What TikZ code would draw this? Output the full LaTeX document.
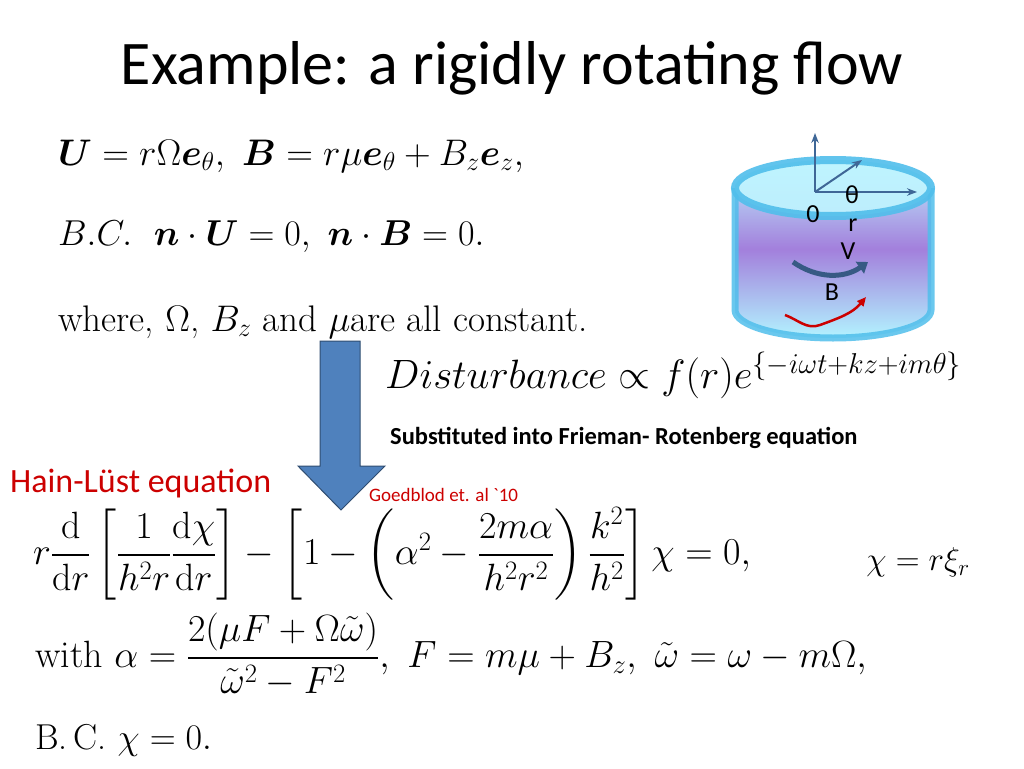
\documentclass[tikz,border=0pt]{standalone}
\usepackage{fix-cm}
\usepackage{amsmath,amssymb,bm}
\usepackage{fontspec}
\newfontfamily\carl{Carlito}
\usetikzlibrary{arrows.meta}
\definecolor{accb}{RGB}{79,129,189}
\definecolor{cyl}{RGB}{80,190,235}
\begin{document}
\begin{tikzpicture}[x=1pt,y=-1pt,
  eq/.style={anchor=west,inner sep=0pt,font=\fontsize{36}{40}\selectfont},
  ax/.style={draw=accb!80!black,line width=2pt,-{Stealth[length=10pt]}},
  lab/.style={inner sep=0pt,font=\carl\fontsize{26}{28}\selectfont}]
\useasboundingbox (0,0) rectangle (1024,768);
\node[inner sep=0pt,font=\carl\fontsize{62}{66}\selectfont] (title) at (512,68) {Example: a rigidly rotating flow};
\node[eq,font=\fontsize{37}{40}\selectfont] (e1) at (58,156) {$\bm U=r\Omega \bm e_\theta,\ \bm B=r\mu \bm e_\theta+B_z\bm e_z,$};
\node[eq] (e2) at (58,237) {$B.C.\ \ \bm n\cdot\bm U=0,\ \bm n\cdot \bm B=0.$};
\node[eq,font=\fontsize{37}{40}\selectfont] (e3) at (58,322) {where, $\Omega$, $B_z$ and $\mu$are all constant.};
% block arrow
\draw[draw=accb!60!black, line width=1pt, fill=accb]
  (320,341) -- (360,341) -- (360,466) -- (385,466) -- (341,510) -- (298,466) -- (320,466) -- cycle;
\node[inner sep=0pt,anchor=west,font=\fontsize{41}{44}\selectfont] (dist) at (385,375) {$Disturbance \propto f(r)e^{\{-i\omega t+kz+im\theta\}}$};
\node[inner sep=0pt,anchor=west,font=\carl\bfseries\fontsize{24.5}{26}\selectfont] (sub) at (390,438) {Substituted into Frieman- Rotenberg equation};
\node[inner sep=0pt,anchor=west,text=red!80!black,font=\carl\fontsize{34}{36}\selectfont] (hl) at (10,483) {Hain-Lüst equation};
\node[inner sep=0pt,anchor=west,text=red!80!black,font=\carl\fontsize{19}{20}\selectfont] (gb) at (369,495) {Goedblod et. al `10};
\node[eq,font=\fontsize{38}{42}\selectfont] (hle) at (33,554) {$r\dfrac{\mathrm d}{\mathrm dr}\left[\dfrac{1}{h^2r}\dfrac{\mathrm d\chi}{\mathrm dr}\right]-\left[1-\left(\alpha^2-\dfrac{2m\alpha}{h^2r^2}\right)\dfrac{k^2}{h^2}\right]\chi=0,$};
\node[inner sep=0pt,font=\fontsize{33}{36}\selectfont] (chi) at (918,562) {$\chi=r\xi_r$};
\node[eq,font=\fontsize{38}{42}\selectfont] (wa) at (35,655) {with $\alpha=\dfrac{2(\mu F+\Omega\tilde\omega)}{\tilde\omega^2-F^2},\ F=m\mu+B_z,\ \tilde\omega=\omega-m\Omega,$};
\node[eq] (bc) at (35,740) {B.\,C. $\chi=0.$};
% cylinder
\shade[top color=blue!15!cyan!25, bottom color=blue!15!cyan!30, middle color=violet!55!blue!50]
  (735,188) -- (735,310) arc[start angle=180,end angle=0,x radius=98,y radius=28] -- (931,188) arc[start angle=0,end angle=-180,x radius=98,y radius=28];
\draw[cyl, line width=7pt, opacity=0.85] (735,188) -- (735,310) arc[start angle=180,end angle=0,x radius=98,y radius=28] -- (931,188);
\draw[cyl, line width=8pt, fill=blue!15!cyan!25, opacity=0.9] (833,188) ellipse[x radius=98,y radius=28];
\coordinate (o) at (815,192);
\coordinate (up) at (815,133);
\coordinate (dg) at (862,160);
\coordinate (rt) at (917,192);
\draw[ax] (o) -- (up);
\draw[ax] (o) -- (dg);
\draw[ax] (o) -- (rt);
\node[lab] (th) at (852,195) {θ};
\node[lab] (z0) at (813,214) {0};
\node[lab] (rr) at (853,225) {r};
\node[lab] (vv) at (848,251) {V};
\node[lab] (bb) at (832,292) {B};
\draw[accb!70!black, line width=5pt, -{Triangle[length=10pt,width=14pt]}] (793,262) to[bend right=35] (868,262);
\draw[red!80!black, line width=2.5pt, -{Triangle[length=9pt,width=8pt]}] (785,315) to[out=-20,in=200] (820,325) to[out=20,in=230] (866,297);
\end{tikzpicture}
\end{document}
